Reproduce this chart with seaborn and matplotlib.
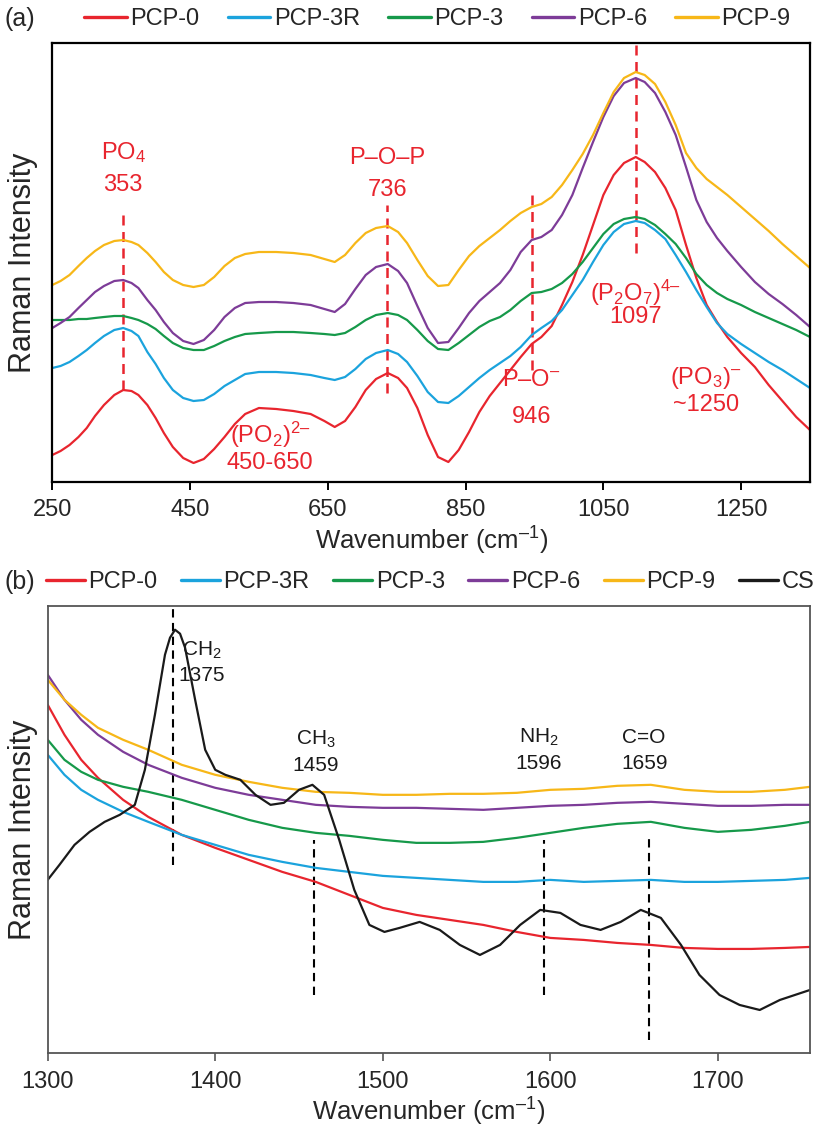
import numpy as np
import pandas as pd
import matplotlib
matplotlib.use("Agg")
import matplotlib.pyplot as plt
import seaborn as sns

# ---------------- (a) phosphate region ----------------
wn_a = [250, 262, 275, 288, 300, 312, 325, 340, 353,
        365, 375, 388, 400, 412, 425, 440, 455, 470, 485, 500, 515, 530,
        550, 575, 600, 625,
        645, 660, 675, 690, 705, 720,
        737,
        752, 765, 780, 795, 810, 825, 840, 855, 870, 885, 900, 915, 930,
        946,
        960, 975, 990, 1005, 1020, 1035, 1050, 1065, 1080,
        1097,
        1110, 1125, 1140, 1155, 1170, 1185, 1200, 1215, 1230,
        1250, 1270, 1290, 1310, 1330, 1350]
pcp0_a = [45, 49, 55, 63, 72, 84, 95, 105, 110,
          109, 105, 95, 82, 67, 53, 42, 37, 41, 51, 63, 76, 86,
          92, 91, 89, 86,
          79, 73, 79, 93, 110, 121,
          127,
          122, 112, 92, 65, 43, 38, 50, 68, 88, 104, 117, 130, 143,
          156,
          163, 174, 195, 218, 245, 275, 305, 325, 337,
          343,
          338, 328, 312, 290, 255, 222, 195, 178, 163,
          147, 133, 115, 99, 83, 70]
pcp3r_a = [132, 134, 138, 144, 150, 157, 164, 170, 172,
           169, 164, 148, 136, 122, 110, 102, 99, 100, 106, 114, 120, 126,
           128, 128, 127, 125,
           122, 120, 123, 131, 141, 147,
           150,
           146, 138, 124, 108, 98, 97, 104, 113, 122, 130, 137, 144, 153,
           165,
           172, 179, 190, 205, 220, 238, 255, 268, 276,
           279,
           277, 270, 261, 245, 228, 210, 193, 177, 166,
           156, 147, 138, 130, 121, 112]
pcp3_a = [180, 180, 180, 181, 181, 182, 183, 184, 184,
          182, 180, 176, 171, 164, 157, 152, 150, 150, 154, 159, 163, 166,
          167, 168, 168, 167,
          166, 165, 167, 173, 180, 185,
          187,
          185, 180, 170, 159, 151, 150, 157, 165, 173, 179, 183, 190, 199,
          207,
          208, 211, 217, 226, 238, 252, 266, 276, 281,
          283,
          281, 275, 266, 256, 242, 226, 215, 207, 201,
          195, 188, 182, 176, 170, 163]
pcp6_a = [172, 177, 183, 192, 200, 208, 214, 219, 220,
          217, 212, 200, 190, 178, 167, 159, 156, 160, 170, 183, 192, 197,
          198, 198, 197, 195,
          191, 188, 196, 211, 225, 233,
          236,
          229, 217, 194, 172, 157, 158, 172, 187, 199, 208, 217, 230, 248,
          260,
          263, 270, 285, 305, 332, 358, 383, 404, 417,
          422,
          418, 407, 388, 365, 333, 300, 278, 262, 249,
          233, 218, 206, 196, 185, 173]
pcp9_a = [215, 219, 225, 234, 242, 249, 255, 259, 260,
          258, 255, 247, 238, 228, 220, 215, 213, 215, 223, 234, 242, 246,
          248, 248, 247, 245,
          241, 238, 245, 257, 267, 272,
          274,
          268, 257, 240, 224, 214, 215, 230, 244, 254, 262, 270, 279, 287,
          293,
          296, 303, 315, 330, 346, 365, 387, 408, 422,
          428,
          425, 416, 398, 375, 347, 332, 321, 313, 305,
          293, 281, 269, 256, 244, 232]

# ---------------- (b) organic region ----------------
wn_b = [1300, 1310, 1320, 1330, 1345, 1360, 1380, 1400, 1420, 1440, 1460, 1480, 1500,
        1520, 1540, 1560, 1580, 1600, 1620, 1640, 1660, 1680, 1700, 1720, 1740, 1755]
pcp0_b = [395, 365, 340, 322, 300, 283, 265, 252, 240, 228, 218, 205, 192, 185, 180,
          175, 168, 162, 160, 157, 155, 152, 151, 151, 152, 153]
pcp3r_b = [345, 325, 310, 300, 288, 278, 265, 255, 245, 238, 232, 228, 224, 222, 220,
           218, 218, 220, 218, 219, 220, 218, 218, 219, 220, 222]
pcp3_b = [360, 340, 328, 320, 313, 308, 300, 290, 280, 272, 267, 264, 260, 257, 257,
          258, 262, 267, 272, 276, 278, 272, 268, 270, 274, 278]
pcp6_b = [425, 400, 380, 365, 348, 335, 322, 312, 305, 300, 295, 293, 292, 292, 291,
          290, 292, 294, 295, 297, 298, 296, 294, 294, 295, 295]
pcp9_b = [420, 400, 385, 372, 360, 350, 335, 325, 318, 312, 308, 307, 305, 305, 306,
          306, 307, 310, 311, 314, 315, 310, 308, 308, 310, 313]
wn_cs = [1300, 1307, 1316, 1325, 1334, 1343, 1352, 1358, 1364, 1370, 1373, 1376, 1379,
         1382, 1388, 1394, 1400, 1406, 1415, 1424, 1433, 1441, 1450, 1458, 1465, 1474,
         1483, 1492, 1501, 1510, 1522, 1534, 1546, 1558, 1570, 1582, 1594, 1606, 1618,
         1630, 1642, 1654, 1666, 1678, 1689, 1701, 1713, 1725, 1737, 1746, 1755]
cs_b = [220, 235, 255, 268, 278, 285, 295, 330, 385, 445, 462, 470, 466,
        452, 400, 350, 330, 325, 320, 305, 295, 297, 310, 315, 305, 260,
        210, 175, 168, 172, 178, 170, 155, 145, 155, 175, 190, 187, 175,
        170, 178, 190, 182, 155, 125, 105, 95, 90, 100, 105, 110]

samples = ["PCP-0", "PCP-3R", "PCP-3", "PCP-6", "PCP-9"]
colors = {"PCP-0": "#E8252E", "PCP-3R": "#1BA3DD", "PCP-3": "#16994A",
          "PCP-6": "#7D3C98", "PCP-9": "#F7B718", "CS": "#1A1A1A"}

ticks_a = [250, 450, 650, 850, 1050, 1250]
ticks_b = [1300, 1400, 1500, 1600, 1700]

# band assignments and the vertical extent of their guide lines
peaks_a = [353, 736, 946, 1097]
spans_a = [(110, 290), (107, 295), (130, 305), (247, 455)]
peaks_b = [1375, 1459, 1596, 1659]
spans_b = [(235, 495), (105, 260), (105, 260), (60, 265)]


def long_frame(wn, series):
    frames = []
    for name, vals in series.items():
        x = wn[name] if isinstance(wn, dict) else wn
        frames.append(pd.DataFrame({"wavenumber": x, "intensity": vals, "sample": name}))
    return pd.concat(frames, ignore_index=True)


df_a = long_frame(wn_a, dict(zip(samples, [pcp0_a, pcp3r_a, pcp3_a, pcp6_a, pcp9_a])))
wn_map = {s: wn_b for s in samples}
wn_map["CS"] = wn_cs
df_b = long_frame(wn_map, dict(zip(samples + ["CS"],
                                   [pcp0_b, pcp3r_b, pcp3_b, pcp6_b, pcp9_b, cs_b])))

sns.set_theme(style="white")
plt.rcParams["font.family"] = ["Liberation Sans", "DejaVu Sans"]
plt.rcParams["mathtext.fontset"] = "custom"
plt.rcParams["mathtext.rm"] = "Liberation Sans"
plt.rcParams["mathtext.it"] = "Liberation Sans:italic"
plt.rcParams["mathtext.bf"] = "Liberation Sans:bold"
plt.rcParams["mathtext.default"] = "regular"

W, H = 819, 1129
fig = plt.figure(figsize=(W / 100, H / 100), dpi=100)
ax1 = fig.add_axes([52.3 / W, 1 - 482 / H, (810 - 52.3) / W, (482 - 43) / H])
ax2 = fig.add_axes([47.7 / W, 1 - 1053 / H, (810 - 47.7) / W, (1053 - 605.7) / H])

FS = 17
RED = "#E8252E"

# ---- panel (a)
sns.lineplot(data=df_a, x="wavenumber", y="intensity", hue="sample", hue_order=samples,
             palette=colors, linewidth=1.6, ax=ax1, sort=False)
ax1.set_xlim(250, 1350)
ax1.set_ylim(18, 457)
ax1.set_xticks(ticks_a)
ax1.set_xticklabels([str(t) for t in ticks_a])
ax1.set_yticks([])
ax1.tick_params(axis="x", bottom=True, direction="out", length=6, width=1.4,
                labelsize=FS, pad=6, color="black")
for sp in ax1.spines.values():
    sp.set_color("black")
    sp.set_linewidth(1.6)
ax1.set_xlabel("Wavenumber (cm$^{–1}$)", fontsize=FS + 1.5, labelpad=3)
ax1.set_ylabel("Raman Intensity", fontsize=FS + 5, labelpad=10)

ax1.vlines(peaks_a, [s[0] for s in spans_a], [s[1] for s in spans_a], colors=RED,
           linestyles=(0, (4, 2.6)), linewidth=1.8, zorder=1)
txt_a = [
    (353, 347, "PO$_4$"), (353, 315, "353"),
    (736, 342, "P–O–P"), (736, 310, "736"),
    (946, 120, "P–O$^{–}$"), (946, 83, "946"),
    (1097, 207, "(P$_2$O$_7$)$^{4–}$"), (1097, 183, "1097"),
    (1199, 122, "(PO$_3$)$^{–}$"), (1199, 95, "~1250"),
    (566, 65, "(PO$_2$)$^{2–}$"), (566, 37, "450-650"),
]
for x, y, s in txt_a:
    ax1.text(x, y, s, color=RED, fontsize=FS, ha="center", va="center")

sns.move_legend(ax1, "center", bbox_to_anchor=(437.5 / W, 1 - 19 / H),
                bbox_transform=fig.transFigure, ncol=5, frameon=False, title=None,
                fontsize=FS, handlelength=1.8, handletextpad=0.15, columnspacing=1.2,
                borderpad=0, borderaxespad=0)
for line in ax1.get_legend().get_lines():
    line.set_linewidth(2.4)
fig.text(5 / W, 1 - 19 / H, "(a)", fontsize=FS + 1, ha="left", va="center")

# ---- panel (b)
sns.lineplot(data=df_b, x="wavenumber", y="intensity", hue="sample",
             hue_order=samples + ["CS"], palette=colors, linewidth=1.6, ax=ax2, sort=False)
ax2.set_xlim(1300, 1755)
ax2.set_ylim(47, 494)
ax2.set_xticks(ticks_b)
ax2.set_xticklabels([str(t) for t in ticks_b])
ax2.set_yticks([])
ax2.tick_params(axis="x", bottom=True, direction="out", length=6, width=1.2,
                labelsize=FS, pad=7, color="#555555")
for sp in ax2.spines.values():
    sp.set_color("#555555")
    sp.set_linewidth(1.3)
ax2.set_xlabel("Wavenumber (cm$^{–1}$)", fontsize=FS + 1.5, labelpad=2)
ax2.set_ylabel("Raman Intensity", fontsize=FS + 5, labelpad=7)

ax2.vlines(peaks_b, [s[0] for s in spans_b], [s[1] for s in spans_b], colors="black",
           linestyles=(0, (4, 2.6)), linewidth=1.5, zorder=1)
txt_b = [
    (1392, 449, "CH$_2$"), (1392, 424, "1375"),
    (1460, 360, "CH$_3$"), (1460, 334, "1459"),
    (1593, 362, "NH$_2$"), (1593, 336, "1596"),
    (1656, 362, "C=O"), (1656, 336, "1659"),
]
for x, y, s in txt_b:
    ax2.text(x, y, s, color="#1A1A1A", fontsize=FS - 2, ha="center", va="center")

sns.move_legend(ax2, "center", bbox_to_anchor=(430 / W, 1 - 582 / H),
                bbox_transform=fig.transFigure, ncol=6, frameon=False, title=None,
                fontsize=FS, handlelength=1.65, handletextpad=0.15, columnspacing=1.0,
                borderpad=0, borderaxespad=0)
for line in ax2.get_legend().get_lines():
    line.set_linewidth(2.4)
fig.text(5 / W, 1 - 582 / H, "(b)", fontsize=FS + 1, ha="left", va="center")

fig.savefig("out.png", dpi=100)
